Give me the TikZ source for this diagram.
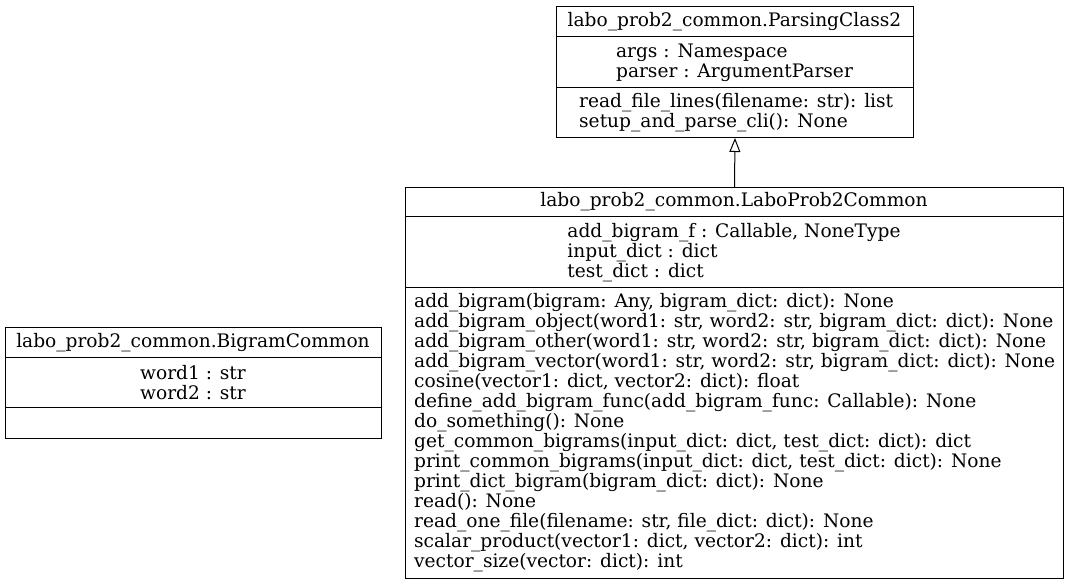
\documentclass[tikz,border=0pt]{standalone}
\usepackage{fontspec}
\setmainfont{DejaVu Serif}
\usetikzlibrary{arrows.meta}
\begin{document}
\begin{tikzpicture}[x=1pt,y=-1pt,
  box/.style={draw, line width=1pt, inner sep=0pt, anchor=north west},
  txt/.style={inner sep=0pt, font=\fontsize{18.6}{20}\selectfont, align=left},
  sep/.style={line width=1pt},
  inherit/.style={line width=1pt, -{Triangle[open, length=14pt, width=11pt]}}]
\useasboundingbox (0,0) rectangle (1069,585);
% ParsingClass2
\node[box, minimum width=357pt, minimum height=131pt] (pc) at (556,6) {};
\draw[sep] (556,37) -- (913,37);
\draw[sep] (556,88) -- (913,88);
\node[txt] (pct) at (734.5,21.5) {labo\_prob2\_common.ParsingClass2};
\node[txt] (pca) at (734.5,62.5) {args : Namespace\\parser : ArgumentParser};
\node[txt, anchor=west] (pcm) at (579,112.5) {read\_file\_lines(filename: str): list\\setup\_and\_parse\_cli(): None};
% LaboProb2Common
\node[box, minimum width=658pt, minimum height=391pt] (lp) at (405,187) {};
\draw[sep] (405,217) -- (1063,217);
\draw[sep] (405,288) -- (1063,288);
\node[txt] (lpt) at (734,202) {labo\_prob2\_common.LaboProb2Common};
\node[txt] (lpa) at (734,252.5) {add\_bigram\_f : Callable, NoneType\\input\_dict : dict\\test\_dict : dict};
\node[txt, anchor=west] (lpm) at (414,433) {add\_bigram(bigram: Any, bigram\_dict: dict): None\\
add\_bigram\_object(word1: str, word2: str, bigram\_dict: dict): None\\
add\_bigram\_other(word1: str, word2: str, bigram\_dict: dict): None\\
add\_bigram\_vector(word1: str, word2: str, bigram\_dict: dict): None\\
cosine(vector1: dict, vector2: dict): float\\
define\_add\_bigram\_func(add\_bigram\_func: Callable): None\\
do\_something(): None\\
get\_common\_bigrams(input\_dict: dict, test\_dict: dict): dict\\
print\_common\_bigrams(input\_dict: dict, test\_dict: dict): None\\
print\_dict\_bigram(bigram\_dict: dict): None\\
read(): None\\
read\_one\_file(filename: str, file\_dict: dict): None\\
scalar\_product(vector1: dict, vector2: dict): int\\
vector\_size(vector: dict): int};
% BigramCommon
\node[box, minimum width=376pt, minimum height=111pt] (bc) at (5,327) {};
\draw[sep] (5,358) -- (381,358);
\draw[sep] (5,408) -- (381,408);
\node[txt] (bct) at (193,342.5) {labo\_prob2\_common.BigramCommon};
\node[txt, align=center] (bca) at (193,383) {word1 : str\\word2 : str};
% inheritance
\draw[inherit] (lp.north) -- (pc.south);
\end{tikzpicture}
\end{document}
